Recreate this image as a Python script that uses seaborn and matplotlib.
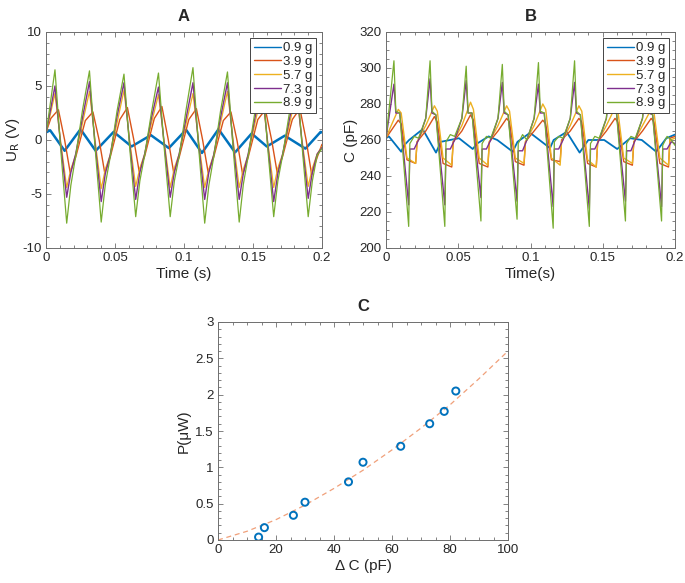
import numpy as np
import pandas as pd
import matplotlib
matplotlib.use("Agg")
import matplotlib.pyplot as plt
from matplotlib.ticker import AutoMinorLocator, MultipleLocator, FuncFormatter
import seaborn as sns

# ---------------- data ----------------
labels = ["0.9 g", "3.9 g", "5.7 g", "7.3 g", "8.9 g"]
colors = ["#0072BD", "#D95319", "#EDB120", "#7E2F8E", "#77AC30"]

# Panel A : U_R (V) vs time (s)
tA_blue = [0, 0.003, 0.0135, 0.025, 0.036, 0.049, 0.062, 0.076, 0.089, 0.1015, 0.113,
           0.125, 0.137, 0.149, 0.160, 0.173, 0.188, 0.199, 0.2]
uA_blue = [0.7, 0.9, -1.0, 1.0, -1.0, 0.75, -0.6, 0.45, -0.75, 0.95, -1.2,
           1.0, -1.15, 0.6, -0.6, 0.4, -0.8, 0.75, 0.7]

tA_orange = [0, 0.0035, 0.009, 0.0135, 0.0175, 0.0215, 0.0285, 0.034, 0.0385, 0.0425, 0.0465,
             0.0535, 0.059, 0.0635, 0.0675, 0.0715, 0.0785, 0.084, 0.0885, 0.0925, 0.0965,
             0.1035, 0.109, 0.1135, 0.1175, 0.1215, 0.1285, 0.134, 0.1385, 0.1425, 0.1465,
             0.1535, 0.159, 0.1635, 0.1675, 0.1715, 0.1785, 0.184, 0.1885, 0.1925, 0.1965, 0.2]
uA_orange = [0.7,
             2.0, 2.8, 0.0, -3.0, -1.6,
             1.8, 2.6, 0.0, -3.0, -1.6,
             1.9, 3.0, 0.1, -2.9, -1.5,
             2.0, 3.1, 0.1, -3.0, -1.6,
             1.9, 2.9, 0.0, -3.0, -1.6,
             1.8, 2.6, -0.1, -3.2, -1.6,
             1.9, 2.8, 0.0, -3.0, -1.5,
             1.9, 2.9, 0.0, -3.2, -1.6,
             -0.4]

tA = [0, 0.0065, 0.0105, 0.015, 0.018, 0.0215, 0.0265, 0.0315, 0.0355, 0.040, 0.043, 0.0465,
      0.0515, 0.0565, 0.0605, 0.065, 0.068, 0.0715, 0.0765, 0.0815, 0.0855, 0.090, 0.093,
      0.0965, 0.1015, 0.1065, 0.1105, 0.115, 0.118, 0.1215, 0.1265, 0.1315, 0.1355, 0.140,
      0.143, 0.1465, 0.1515, 0.1565, 0.1605, 0.165, 0.168, 0.1715, 0.1765, 0.1815, 0.1855,
      0.190, 0.193, 0.1965, 0.2]
uA_yellow = [0.6,
             4.3, 0.0, -4.4, -2.7, -1.4, 1.6,
             4.5, 0.0, -4.5, -2.7, -1.4, 1.6,
             4.6, 0.1, -4.3, -2.6, -1.3, 1.6,
             4.2, 0.0, -4.4, -2.6, -1.3, 1.5,
             4.3, 0.0, -4.4, -2.7, -1.4, 1.6,
             4.5, 0.1, -4.4, -2.7, -1.4, 1.6,
             4.4, 0.0, -4.4, -2.6, -1.3, 1.5,
             4.4, 0.0, -4.3, -2.6, -1.3, -0.6]
uA_purple = [0.6,
             5.0, -0.3, -5.3, -3.0, -1.3, 2.1,
             5.4, -0.3, -5.7, -3.1, -1.4, 2.2,
             5.3, -0.2, -5.5, -3.0, -1.3, 2.1,
             4.9, -0.2, -5.3, -3.0, -1.3, 2.0,
             5.3, -0.3, -5.5, -3.0, -1.4, 2.1,
             5.3, -0.3, -5.5, -3.1, -1.3, 2.1,
             5.2, -0.2, -5.7, -3.1, -1.3, 2.0,
             5.0, -0.2, -5.4, -3.0, -1.3, -0.7]
uA_green = [0.5,
            6.5, -0.6, -7.7, -4.2, -1.5, 2.8,
            6.4, -0.6, -7.6, -4.1, -1.6, 2.7,
            6.1, -0.5, -7.1, -3.8, -1.4, 2.6,
            6.2, -0.5, -7.1, -3.8, -1.5, 2.8,
            6.7, -0.5, -7.7, -4.2, -1.6, 2.7,
            6.3, -0.6, -7.6, -4.1, -1.5, 2.7,
            6.2, -0.5, -7.1, -3.8, -1.4, 2.6,
            6.3, -0.5, -7.1, -3.8, -1.4, -0.8]

# Panel B : C (pF) vs time (s)
tB_blue = [0, 0.002, 0.0105, 0.0125, 0.016, 0.0254, 0.0346, 0.038, 0.0505, 0.060, 0.063,
           0.071, 0.077, 0.0877, 0.091, 0.0997, 0.1135, 0.116, 0.125, 0.134, 0.140, 0.151,
           0.160, 0.169, 0.177, 0.187, 0.194, 0.2]
cB_blue = [261, 262, 253.5, 257, 260, 266, 253, 259, 261, 255, 258,
           262, 260, 253.5, 259, 264, 255.5, 260, 264.5, 253, 260, 260,
           255, 261, 260, 253.5, 261, 263]

tB_low = [0, 0.0025, 0.0085, 0.0105, 0.0145, 0.0205, 0.0215,
          0.0275, 0.0335, 0.0355, 0.0395, 0.0455, 0.0465,
          0.0525, 0.0585, 0.0605, 0.0645, 0.0705, 0.0715,
          0.0775, 0.0835, 0.0855, 0.0895, 0.0955, 0.0965,
          0.1025, 0.1085, 0.1105, 0.1145, 0.1205, 0.1215,
          0.1275, 0.1335, 0.1355, 0.1395, 0.1455, 0.1465,
          0.1525, 0.1585, 0.1605, 0.1645, 0.1705, 0.1715,
          0.1775, 0.1835, 0.1855, 0.1895, 0.1955, 0.1965, 0.2]
cB_orange = [261,
             264, 271, 269, 249, 247, 259,
             265, 273, 270, 247, 245, 259,
             265, 274, 271, 247, 245, 259,
             265, 272, 270, 248, 246, 259,
             265, 271, 269, 249, 248, 260,
             265, 272, 270, 247, 245, 259,
             265, 272, 270, 248, 246, 259,
             265, 272, 270, 247, 245, 261, 262]
cB_yellow = [261,
             266, 277, 275, 250, 247, 259,
             268, 279, 276, 250, 246, 259,
             268, 281, 277, 250, 246, 259,
             268, 279, 276, 250, 247, 259,
             268, 280, 277, 250, 246, 259,
             268, 279, 276, 249, 245, 259,
             268, 278, 276, 250, 247, 259,
             268, 277, 275, 250, 246, 260, 261]

tB = [0,
      0.0025, 0.0055, 0.0068, 0.0095, 0.0157, 0.0165, 0.0195, 0.0225,
      0.0275, 0.0305, 0.0318, 0.0345, 0.0407, 0.0415, 0.0445, 0.0475,
      0.0525, 0.0555, 0.0568, 0.0595, 0.0657, 0.0665, 0.0695, 0.0725,
      0.0775, 0.0805, 0.0818, 0.0845, 0.0907, 0.0915, 0.0945, 0.0975,
      0.1025, 0.1055, 0.1068, 0.1095, 0.1157, 0.1165, 0.1195, 0.1225,
      0.1275, 0.1305, 0.1318, 0.1345, 0.1407, 0.1415, 0.1445, 0.1475,
      0.1525, 0.1555, 0.1568, 0.1595, 0.1657, 0.1665, 0.1695, 0.1725,
      0.1775, 0.1805, 0.1818, 0.1845, 0.1907, 0.1915, 0.1945, 0.1975,
      0.2]
cB_purple = [261,
             275, 291, 275, 275, 224, 255, 255, 260,
             272, 294, 275, 274, 224, 255, 255, 260,
             272, 293, 275, 275, 228, 255, 255, 260,
             272, 292, 275, 274, 226, 254, 254, 260,
             272, 291, 275, 275, 223, 255, 255, 260,
             272, 292, 275, 274, 222, 255, 255, 260,
             272, 292, 275, 275, 226, 254, 254, 260,
             272, 291, 275, 274, 223, 255, 255, 259,
             258]
cB_green = [261,
            280, 304, 276, 275, 212, 258, 262, 261,
            272, 304, 276, 274, 212, 259, 263, 262,
            272, 301, 275, 275, 215, 258, 262, 261,
            272, 302, 276, 274, 216, 258, 263, 260,
            272, 303, 276, 275, 211, 259, 262, 261,
            272, 304, 276, 274, 212, 258, 262, 261,
            272, 303, 276, 275, 215, 258, 262, 261,
            272, 302, 276, 274, 215, 257, 262, 260,
            257]

# Panel C : P (uW) vs delta C (pF)
dC = [14, 16, 26, 30, 45, 50, 63, 73, 78, 82]
P = [0.04, 0.17, 0.34, 0.52, 0.80, 1.07, 1.29, 1.60, 1.77, 2.05]
fit_x = [0, 10, 20, 30, 40, 50, 60, 70, 80, 90, 100]
fit_y = [0.0, 0.12, 0.28, 0.48, 0.71, 0.96, 1.24, 1.54, 1.86, 2.22, 2.6]

# ---------------- styling ----------------
sns.set_style("ticks")
plt.rcParams["font.family"] = ["Liberation Sans", "DejaVu Sans"]
plt.rcParams["axes.edgecolor"] = "#6e6e6e"
plt.rcParams["xtick.color"] = "#6e6e6e"
plt.rcParams["ytick.color"] = "#6e6e6e"
plt.rcParams["xtick.labelcolor"] = "#262626"
plt.rcParams["ytick.labelcolor"] = "#262626"

fig = plt.figure(figsize=(6.85, 5.83), dpi=100)
axA = fig.add_axes([46 / 685, 1 - 248 / 583, 276 / 685, 216 / 583])
axB = fig.add_axes([386 / 685, 1 - 248 / 583, 289 / 685, 216 / 583])
axC = fig.add_axes([218 / 685, 1 - 540 / 583, 290 / 685, 218 / 583])

gfmt = FuncFormatter(lambda v, p: "{:g}".format(round(v, 6)))


def style_axes(ax, xmaj, xmin_n, ymaj, ymin_n):
    ax.xaxis.set_major_locator(MultipleLocator(xmaj))
    ax.yaxis.set_major_locator(MultipleLocator(ymaj))
    ax.xaxis.set_minor_locator(AutoMinorLocator(xmin_n))
    ax.yaxis.set_minor_locator(AutoMinorLocator(ymin_n))
    ax.xaxis.set_major_formatter(gfmt)
    ax.yaxis.set_major_formatter(gfmt)
    ax.tick_params(which="both", direction="in", top=True, right=True,
                   labelsize=9.5, width=0.6, pad=3)
    ax.tick_params(which="major", length=3.5)
    ax.tick_params(which="minor", length=2)
    for s in ax.spines.values():
        s.set_linewidth(0.7)
        s.set_visible(True)


def panel_df(ts, vs):
    frames = []
    for lab, t, v in zip(labels, ts, vs):
        frames.append(pd.DataFrame({"t": t, "v": v, "mass": lab}))
    return frames


# Panel A
framesA = panel_df([tA_blue, tA_orange, tA, tA, tA],
                   [uA_blue, uA_orange, uA_yellow, uA_purple, uA_green])
lwA = [1.8, 1.0, 0.9, 1.0, 0.9]
for df, c, lw, lab in zip(framesA, colors, lwA, labels):
    sns.lineplot(data=df, x="t", y="v", ax=axA, color=c, lw=lw, sort=False,
                 estimator=None, label=lab)
axA.set_xlim(0, 0.2)
axA.set_ylim(-10, 10)
style_axes(axA, 0.05, 5, 5, 5)
axA.set_xlabel("Time (s)", fontsize=11, color="#262626", labelpad=2)
axA.set_ylabel("U$_{\\mathrm{R}}$ (V)", fontsize=11, color="#262626", labelpad=0)
axA.set_title("A", fontsize=12, fontweight="bold", pad=8)

# Panel B
framesB = panel_df([tB_blue, tB_low, tB_low, tB, tB],
                   [cB_blue, cB_orange, cB_yellow, cB_purple, cB_green])
lwB = [1.3, 1.0, 1.0, 1.0, 0.9]
for df, c, lw, lab in zip(framesB, colors, lwB, labels):
    sns.lineplot(data=df, x="t", y="v", ax=axB, color=c, lw=lw, sort=False,
                 estimator=None, label=lab)
axB.set_xlim(0, 0.2)
axB.set_ylim(200, 320)
style_axes(axB, 0.05, 5, 20, 4)
axB.set_xlabel("Time(s)", fontsize=11, color="#262626", labelpad=2)
axB.set_ylabel("C (pF)", fontsize=11, color="#262626", labelpad=1)
axB.set_title("B", fontsize=12, fontweight="bold", pad=8)

for ax in (axA, axB):
    leg = ax.legend(loc="upper right", fontsize=9.5, frameon=True, fancybox=False,
                    framealpha=1, edgecolor="#444444", handlelength=2.0,
                    handletextpad=0.15, labelspacing=0.12, borderpad=0.3,
                    borderaxespad=0.45)
    leg.get_frame().set_linewidth(0.7)
    for h in leg.get_lines():
        h.set_linewidth(1.0)

# Panel C
dfc = pd.DataFrame({"dC": dC, "P": P})
dff = pd.DataFrame({"x": fit_x, "y": fit_y})
sns.lineplot(data=dff, x="x", y="y", ax=axC, color="#F0A07A", lw=0.9,
             linestyle=(0, (4, 3)), estimator=None, sort=False)
sns.scatterplot(data=dfc, x="dC", y="P", ax=axC, marker="o", s=26,
                facecolor="none", edgecolor="#0072BD", linewidth=1.4, zorder=3)
axC.set_xlim(0, 100)
axC.set_ylim(0, 3)
style_axes(axC, 20, 4, 0.5, 5)
axC.set_xlabel("Δ C (pF)", fontsize=11, color="#262626", labelpad=2)
axC.set_ylabel("P(μW)", fontsize=11, color="#262626", labelpad=3)
axC.set_title("C", fontsize=12, fontweight="bold", pad=8)

fig.savefig("out.png", dpi=100)
